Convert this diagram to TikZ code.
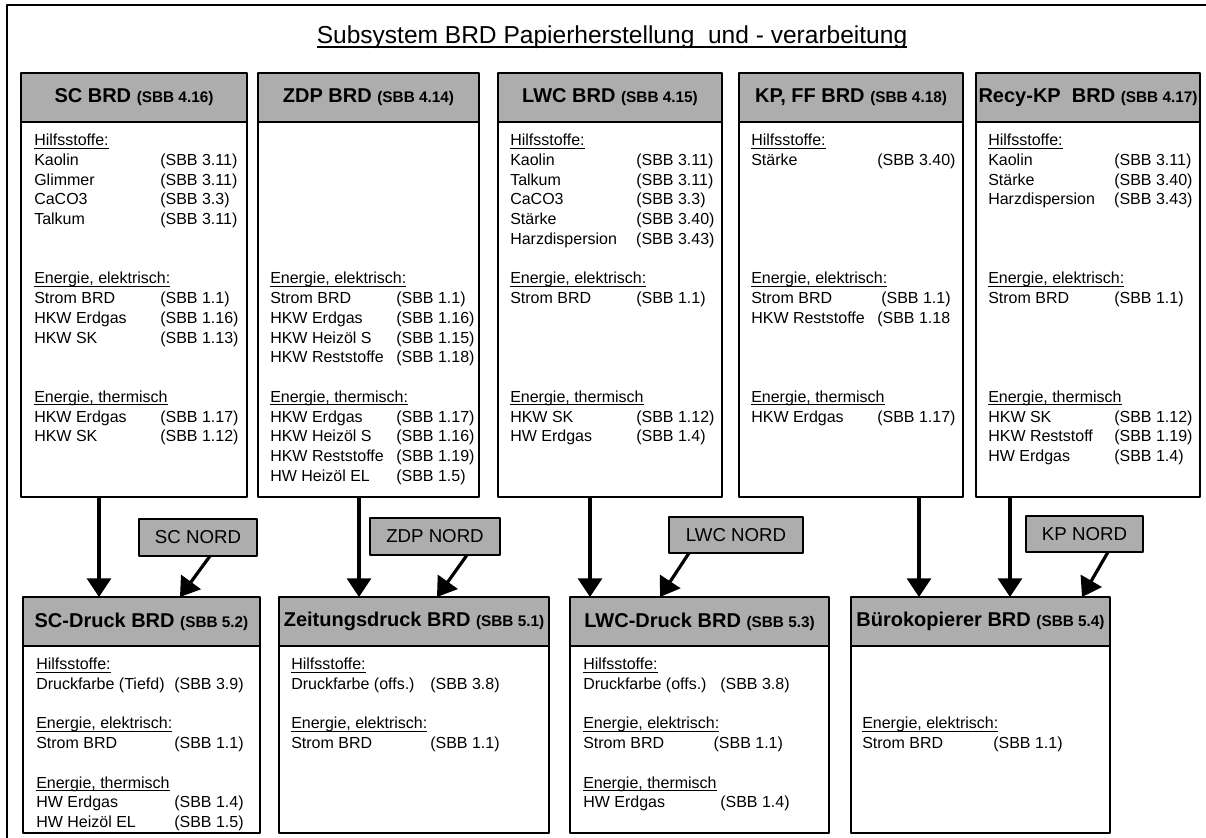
\documentclass[tikz,border=0pt]{standalone}
\usepackage{fontspec}
\setmainfont{Liberation Sans}
\usetikzlibrary{arrows.meta,positioning,calc}
\newdimen\pxu \pxu=0.75pt
\newcommand\uln[1]{\leavevmode\setbox0\hbox{#1}\rlap{\rule[-.17em]{\wd0}{.05em}}\box0}
\newcommand\sect[1]{\leavevmode\rlap{\uln{#1}}}
\newcommand\hdfont{\fontsize{15}{18}\selectfont\bfseries}
\newcommand\sbbfont{\fontsize{11.5}{13}\selectfont\bfseries}
\newcommand\txtfont{\fontsize{12}{14.8}\selectfont}
\newcommand\nordfont{\fontsize{14}{16}\selectfont}
\newcommand\titlefont{\fontsize{18.4}{21}\selectfont}
\begin{document}
\begin{tikzpicture}[x=.75pt, y=-.75pt, line join=round,
	hd/.style={draw, fill=black!32, line width=.9pt, outer sep=0pt, inner sep=0pt,
		minimum width=#1*.75pt, minimum height=49*.75pt, anchor=north west, font=\hdfont},
	bd/.style={draw, line width=.9pt, outer sep=0pt, inner sep=0pt,
		minimum width=#1*.75pt, anchor=north},
	txt/.style={anchor=north west, inner sep=0pt, font=\txtfont},
	nord/.style={draw, fill=black!32, line width=.9pt, outer sep=0pt, inner sep=0pt, font=\nordfont},
	arr/.style={line width=2.4pt, -{Triangle[length=14pt,width=18pt]}}]
	\useasboundingbox (0,0) rectangle (1206,838);
	% rahmen
	\draw[line width=.8pt] (7,5) rectangle (1212,843);
	\node[font=\titlefont] (title) at (612,37) {\uln{Subsystem BRD Papierherstellung\ \ und - verarbeitung}};
	% obere reihe
	\foreach \nm/\xx/\w/\lab/\sb in {sc/21/226/{SC BRD}/4.16, zdp/258/221/{ZDP BRD}/4.14,
		lwc/498/224/{LWC BRD}/4.15, kp/739/224/{KP, FF BRD}/4.18, recy/976/224/{Recy-KP\ \ BRD}/4.17}{
		\node[hd=\w] (\nm-h) at (\xx,73) {\lab\ {\sbbfont(SBB \sb)}};
		\node[bd=\w, minimum height=375*.75pt] (\nm) at (\nm-h.south) {};}
	% untere reihe
	\foreach \nm/\xx/\w/\lab/\sb in {scd/23/237/{SC-Druck BRD}/5.2, zd/279/270/{Zeitungsdruck BRD}/5.1,
		lwcd/570/259/{LWC-Druck BRD}/5.3, buero/851/259/{Bürokopierer BRD}/5.4}{
		\node[hd=\w] (\nm-h) at (\xx,597) {\lab\ {\sbbfont(SBB \sb)}};
		\node[bd=\w, minimum height=187*.75pt] (\nm) at (\nm-h.south) {};}
	% NORD
	\node[nord, minimum width=118*.75pt, minimum height=37*.75pt] (scn) at (198,537.5) {SC NORD};
	\node[nord, minimum width=130*.75pt, minimum height=37*.75pt] (zdpn) at (435,536.5) {ZDP NORD};
	\node[nord, minimum width=134*.75pt, minimum height=36*.75pt] (lwcn) at (736,535) {LWC NORD};
	\node[nord, minimum width=117*.75pt, minimum height=36*.75pt] (kpn) at (1084.5,534) {KP NORD};
	% inhalte oben
	\node[txt] (sc-t) at ($(sc.north west)+(13,9.7)$) {\begin{tabular}[t]{@{}p{126\pxu}@{}l@{}}
		\sect{Hilfsstoffe:}\\
		Kaolin & (SBB 3.11)\\
		Glimmer & (SBB 3.11)\\
		CaCO3 & (SBB 3.3)\\
		Talkum & (SBB 3.11)\\
		\\ \\
		\sect{Energie, elektrisch:}\\
		Strom BRD & (SBB 1.1)\\
		HKW Erdgas & (SBB 1.16)\\
		HKW SK & (SBB 1.13)\\
		\\ \\
		\sect{Energie, thermisch}\\
		HKW Erdgas & (SBB 1.17)\\
		HKW SK & (SBB 1.12)
	\end{tabular}};
	\node[txt] (zdp-t) at ($(zdp.north west)+(12,9.7)$) {\begin{tabular}[t]{@{}p{126\pxu}@{}l@{}}
		\\ \\ \\ \\ \\ \\ \\
		\sect{Energie, elektrisch:}\\
		Strom BRD & (SBB 1.1)\\
		HKW Erdgas & (SBB 1.16)\\
		HKW Heizöl S & (SBB 1.15)\\
		HKW Reststoffe & (SBB 1.18)\\
		\\
		\sect{\uln{Energie, thermisch}:}\\
		HKW Erdgas & (SBB 1.17)\\
		HKW Heizöl S & (SBB 1.16)\\
		HKW Reststoffe & (SBB 1.19)\\
		HW Heizöl EL & (SBB 1.5)
	\end{tabular}};
	\node[txt] (lwc-t) at ($(lwc.north west)+(12,9.7)$) {\begin{tabular}[t]{@{}p{126\pxu}@{}l@{}}
		\sect{Hilfsstoffe:}\\
		Kaolin & (SBB 3.11)\\
		Talkum & (SBB 3.11)\\
		CaCO3 & (SBB 3.3)\\
		Stärke & (SBB 3.40)\\
		Harzdispersion & (SBB 3.43)\\
		\\
		\sect{Energie, elektrisch:}\\
		Strom BRD & (SBB 1.1)\\
		\\ \\ \\ \\
		\sect{Energie, thermisch}\\
		HKW SK & (SBB 1.12)\\
		HW Erdgas & (SBB 1.4)
	\end{tabular}};
	\node[txt] (kp-t) at ($(kp.north west)+(12,9.7)$) {\begin{tabular}[t]{@{}p{126\pxu}@{}l@{}}
		\sect{Hilfsstoffe:}\\
		Stärke & (SBB 3.40)\\
		\\ \\ \\ \\ \\
		\sect{Energie, elektrisch:}\\
		Strom BRD & \hspace{3pt}(SBB 1.1)\\
		HKW Reststoffe & (SBB 1.18\\
		\\ \\ \\
		\sect{Energie, thermisch}\\
		HKW Erdgas & (SBB 1.17)
	\end{tabular}};
	\node[txt] (recy-t) at ($(recy.north west)+(12,9.7)$) {\begin{tabular}[t]{@{}p{126\pxu}@{}l@{}}
		\sect{Hilfsstoffe:}\\
		Kaolin & (SBB 3.11)\\
		Stärke & (SBB 3.40)\\
		Harzdispersion & (SBB 3.43)\\
		\\ \\ \\
		\sect{Energie, elektrisch:}\\
		Strom BRD & (SBB 1.1)\\
		\\ \\ \\ \\
		\sect{Energie, thermisch}\\
		HKW SK & (SBB 1.12)\\
		HKW Reststoff & (SBB 1.19)\\
		HW Erdgas & (SBB 1.4)
	\end{tabular}};
	% inhalte unten
	\node[txt] (scd-t) at ($(scd.north west)+(13,9.7)$) {\begin{tabular}[t]{@{}p{138\pxu}@{}l@{}}
		\sect{Hilfsstoffe:}\\
		Druckfarbe (Tiefd) & (SBB 3.9)\\
		\\
		\sect{Energie, elektrisch:}\\
		Strom BRD & (SBB 1.1)\\
		\\
		\sect{Energie, thermisch}\\
		HW Erdgas & (SBB 1.4)\\
		HW Heizöl EL & (SBB 1.5)
	\end{tabular}};
	\node[txt] (zd-t) at ($(zd.north west)+(12,9.7)$) {\begin{tabular}[t]{@{}p{139\pxu}@{}l@{}}
		\sect{Hilfsstoffe:}\\
		Druckfarbe (offs.) & (SBB 3.8)\\
		\\
		\sect{Energie, elektrisch:}\\
		Strom BRD & (SBB 1.1)
	\end{tabular}};
	\node[txt] (lwcd-t) at ($(lwcd.north west)+(13,9.7)$) {\begin{tabular}[t]{@{}p{137\pxu}@{}l@{}}
		\sect{Hilfsstoffe:}\\
		Druckfarbe (offs.) & (SBB 3.8)\\
		\\
		\sect{Energie, elektrisch:}\\
		Strom BRD & \hspace{-5pt}(SBB 1.1)\\
		\\
		\sect{Energie, thermisch}\\
		HW Erdgas & (SBB 1.4)
	\end{tabular}};
	\node[txt] (buero-t) at ($(buero.north west)+(11,9.7)$) {\begin{tabular}[t]{@{}p{131\pxu}@{}l@{}}
		\\ \\ \\
		\sect{Energie, elektrisch:}\\
		Strom BRD & (SBB 1.1)
	\end{tabular}};
	% pfeile
	\draw[arr] (sc.south -| 99,0) -- (scd-h.north -| 99,0);
	\draw[arr] (scn.south -| 210,0) -- (scd-h.north -| 180,0);
	\draw[arr] (zdp.south -| 359,0) -- (zd-h.north -| 359,0);
	\draw[arr] (zdpn.south -| 467,0) -- (zd-h.north -| 437,0);
	\draw[arr] (lwc.south -| 590,0) -- (lwcd-h.north -| 590,0);
	\draw[arr] (lwcn.south -| 689,0) -- (lwcd-h.north -| 660,0);
	\draw[arr] (kp.south -| 919,0) -- (buero-h.north -| 919,0);
	\draw[arr] (recy.south -| 1010,0) -- (buero-h.north -| 1010,0);
	\draw[arr] (kpn.south -| 1108,0) -- (buero-h.north -| 1082,0);
\end{tikzpicture}
\end{document}
